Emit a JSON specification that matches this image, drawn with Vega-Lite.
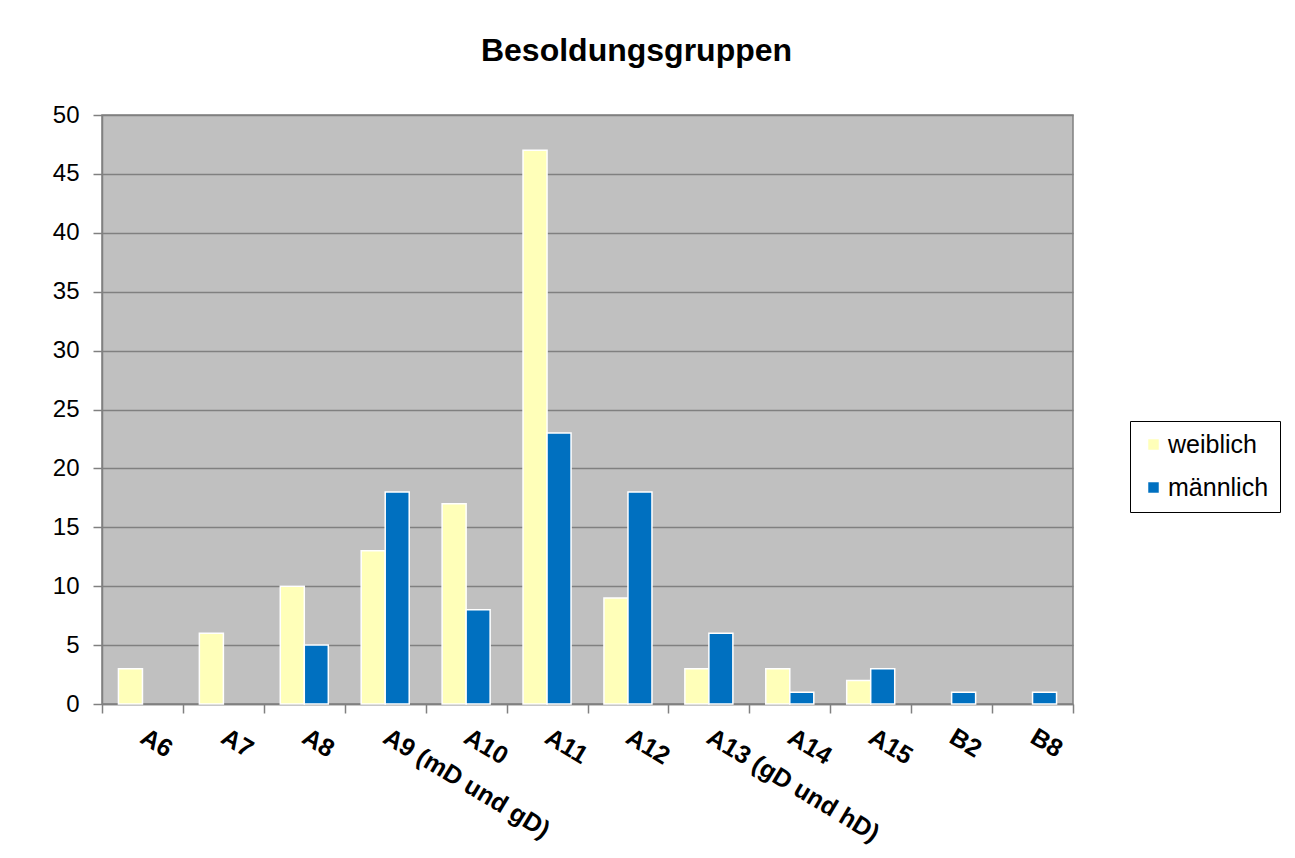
{
  "$schema": "https://vega.github.io/schema/vega-lite/v6.json",
  "width": 971,
  "height": 589,
  "autosize": {"type": "none"},
  "padding": {"left": 102, "top": 115, "right": 222, "bottom": 154},
  "background": "white",
  "title": {
    "text": "Besoldungsgruppen",
    "font": "Liberation Sans",
    "fontSize": 32,
    "fontWeight": "bold",
    "color": "black",
    "anchor": "middle",
    "dx": 49,
    "offset": 35
  },
  "data": {
    "values": [
      {"gruppe": "A6", "geschlecht": "weiblich", "anzahl": 3},
      {"gruppe": "A7", "geschlecht": "weiblich", "anzahl": 6},
      {"gruppe": "A8", "geschlecht": "weiblich", "anzahl": 10},
      {"gruppe": "A8", "geschlecht": "männlich", "anzahl": 5},
      {"gruppe": "A9 (mD und gD)", "geschlecht": "weiblich", "anzahl": 13},
      {"gruppe": "A9 (mD und gD)", "geschlecht": "männlich", "anzahl": 18},
      {"gruppe": "A10", "geschlecht": "weiblich", "anzahl": 17},
      {"gruppe": "A10", "geschlecht": "männlich", "anzahl": 8},
      {"gruppe": "A11", "geschlecht": "weiblich", "anzahl": 47},
      {"gruppe": "A11", "geschlecht": "männlich", "anzahl": 23},
      {"gruppe": "A12", "geschlecht": "weiblich", "anzahl": 9},
      {"gruppe": "A12", "geschlecht": "männlich", "anzahl": 18},
      {"gruppe": "A13 (gD und hD)", "geschlecht": "weiblich", "anzahl": 3},
      {"gruppe": "A13 (gD und hD)", "geschlecht": "männlich", "anzahl": 6},
      {"gruppe": "A14", "geschlecht": "weiblich", "anzahl": 3},
      {"gruppe": "A14", "geschlecht": "männlich", "anzahl": 1},
      {"gruppe": "A15", "geschlecht": "weiblich", "anzahl": 2},
      {"gruppe": "A15", "geschlecht": "männlich", "anzahl": 3},
      {"gruppe": "B2", "geschlecht": "männlich", "anzahl": 1},
      {"gruppe": "B8", "geschlecht": "männlich", "anzahl": 1}
    ]
  },
  "mark": {"type": "bar", "stroke": "white", "strokeWidth": 1.5},
  "encoding": {
    "x": {
      "field": "gruppe",
      "type": "nominal",
      "sort": ["A6", "A7", "A8", "A9 (mD und gD)", "A10", "A11", "A12", "A13 (gD und hD)", "A14", "A15", "B2", "B8"],
      "scale": {"paddingInner": 0, "paddingOuter": 0},
      "axis": {
        "title": null,
        "labelAngle": 31,
        "labelAlign": "left",
        "labelBaseline": "top",
        "labelFont": "Liberation Sans",
        "labelFontSize": 25,
        "labelFontWeight": "bold",
        "labelColor": "black",
        "labelPadding": 11,
        "labelOverlap": false,
        "labelLimit": 400,
        "labelOffset": 6,
        "tickBand": "extent",
        "tickSize": 9,
        "tickColor": "#808080",
        "tickWidth": 1.5,
        "domainColor": "#808080",
        "domainWidth": 1.5,
        "grid": false
      }
    },
    "xOffset": {
      "field": "geschlecht",
      "type": "nominal",
      "sort": ["weiblich", "männlich"],
      "scale": {"domain": ["weiblich", "männlich"], "paddingInner": 0, "paddingOuter": 0.685}
    },
    "y": {
      "field": "anzahl",
      "type": "quantitative",
      "scale": {"domain": [0, 50]},
      "axis": {
        "title": null,
        "values": [0, 5, 10, 15, 20, 25, 30, 35, 40, 45, 50],
        "labelFont": "Liberation Sans",
        "labelFontSize": 24,
        "labelColor": "black",
        "labelPadding": 14,
        "tickSize": 9,
        "tickColor": "#808080",
        "tickWidth": 1.5,
        "domainColor": "#808080",
        "domainWidth": 1.5,
        "grid": true,
        "gridColor": "#808080",
        "gridWidth": 1.5
      }
    },
    "color": {
      "field": "geschlecht",
      "type": "nominal",
      "scale": {"domain": ["weiblich", "männlich"], "range": ["#FFFFB9", "#0070C0"]},
      "legend": {
        "title": null,
        "orient": "none",
        "legendX": 1028,
        "legendY": 306,
        "symbolType": "square",
        "symbolSize": 110,
        "symbolStrokeWidth": 0,
        "labelFont": "Liberation Sans",
        "labelFontSize": 25,
        "labelColor": "black",
        "labelOffset": 2,
        "rowPadding": 17,
        "padding": 11,
        "strokeColor": "black",
        "fillColor": "white"
      }
    }
  },
  "config": {
    "view": {"fill": "#C0C0C0", "stroke": "#808080", "strokeWidth": 1.5}
  }
}
